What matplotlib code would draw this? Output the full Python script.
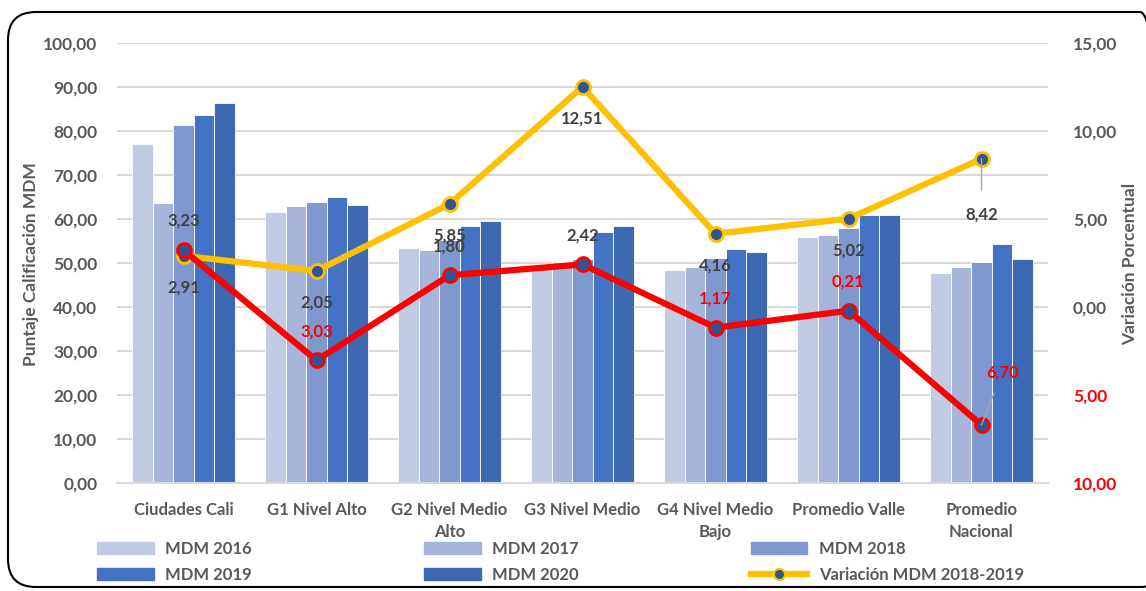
import matplotlib.pyplot as plt
import numpy as np
from matplotlib.patches import FancyBboxPatch, Patch
from matplotlib.lines import Line2D
from matplotlib.transforms import IdentityTransform

plt.rcParams['font.family'] = ['Lato', 'DejaVu Sans']
plt.rcParams['font.weight'] = 'bold'
plt.rcParams['axes.labelweight'] = 'bold'

categorias = ["Ciudades Cali", "G1 Nivel Alto", "G2 Nivel Medio\nAlto", "G3 Nivel Medio",
              "G4 Nivel Medio\nBajo", "Promedio Valle", "Promedio\nNacional"]
mdm_2016 = [77.1, 61.5, 53.3, 49.5, 48.4, 55.9, 47.7]
mdm_2017 = [63.7, 63.0, 52.9, 50.2, 49.0, 56.4, 49.0]
mdm_2018 = [81.3, 63.8, 55.2, 50.8, 51.1, 58.0, 50.2]
mdm_2019 = [83.6, 65.1, 58.4, 57.0, 53.1, 61.0, 54.3]
mdm_2020 = [86.4, 63.1, 59.5, 58.4, 52.4, 60.8, 50.8]
var_2018_2019 = [2.91, 2.05, 5.85, 12.51, 4.16, 5.02, 8.42]
var_2019_2020 = [3.23, -3.03, 1.80, 2.42, -1.17, -0.21, -6.70]

series = [mdm_2016, mdm_2017, mdm_2018, mdm_2019, mdm_2020]
nombres = ["MDM 2016", "MDM 2017", "MDM 2018", "MDM 2019", "MDM 2020"]
colores = ["#C2CBE4", "#A7B5DB", "#7F98D0", "#4472C4", "#3D68B2"]

gris = "#595959"
texto = "#404040"
amarillo = "#FFC000"
rojo = "#FF0000"
azul_marca = "#2F5597"

def coma(v):
    return f"{abs(v):.2f}".replace(".", ",")

fig = plt.figure(figsize=(11.46, 5.91), dpi=100)
W, H = 1146, 591

# marco redondeado (en pixeles), borde derecho fuera de la imagen
marco = FancyBboxPatch((8, 4), 1160, 575, boxstyle="round,pad=0,rounding_size=28",
                       transform=IdentityTransform(), fill=False, edgecolor="black", linewidth=1.5)
fig.patches.append(marco)

ax = fig.add_axes([117 / W, 1 - 483 / H, (1048 - 117) / W, 440 / H])
x = np.arange(len(categorias))
ancho = 0.154
for i, (vals, nom, col) in enumerate(zip(series, nombres, colores)):
    ax.bar(x + (i - 2) * ancho, vals, ancho, color=col, edgecolor="white", linewidth=0.6, label=nom)

ax.set_ylim(0, 100)
ax.set_xlim(-0.5, len(categorias) - 0.5)
ax.set_yticks(np.arange(0, 101, 10))
ax.set_yticklabels([coma(v) for v in np.arange(0, 101, 10)], color=gris, fontsize=12.5)
ax.set_xticks(x)
ax.set_xticklabels(categorias, color=gris, fontsize=12, linespacing=1.45)
ax.tick_params(axis="y", length=0, pad=14)
ax.tick_params(axis="x", length=0, pad=14)
ax.grid(axis="y", color="#D9D9D9", linewidth=1.5)
ax.set_axisbelow(True)
for s in ["top", "right", "left"]:
    ax.spines[s].set_visible(False)
ax.spines["bottom"].set_color("#D9D9D9")
ax.spines["bottom"].set_linewidth(1.5)

ax2 = ax.twinx()
ax2.set_ylim(-10, 15)
t2 = np.arange(-10, 16, 5)
ax2.set_yticks(t2)
ax2.set_yticklabels([coma(v) for v in t2], fontsize=12.5)
for lab, v in zip(ax2.get_yticklabels(), t2):
    lab.set_color(rojo if v < 0 else gris)
ax2.tick_params(axis="y", length=0, pad=18)
for s in ["top", "right", "left", "bottom"]:
    ax2.spines[s].set_visible(False)

fig.text(31 / W, 1 - 264 / H, "Puntaje Calificación MDM", rotation=90, ha="center", va="center",
         color=gris, fontsize=12.5, fontweight="bold")
fig.text(1130 / W, 1 - 264 / H, "Variación Porcentual", rotation=90, ha="center", va="center",
         color=gris, fontsize=12.5, fontweight="bold")

ax2.plot(x, var_2018_2019, color=amarillo, linewidth=4.5, marker="o", markersize=10,
         markerfacecolor=azul_marca, markeredgecolor=amarillo, markeredgewidth=2, zorder=3)
ax2.plot(x, var_2019_2020, color=rojo, linewidth=4.5, marker="o", markersize=10,
         markerfacecolor=azul_marca, markeredgecolor=rojo, markeredgewidth=2, zorder=4)

for i, v in enumerate(var_2018_2019):
    if i == len(var_2018_2019) - 1:
        ax2.annotate(coma(v), (x[i], v), xytext=(0, -40), textcoords="offset points",
                     ha="center", va="center", fontsize=12, color=texto, zorder=6,
                     arrowprops=dict(arrowstyle="-", color="#A6A6A6", lw=1, shrinkA=10, shrinkB=0))
    else:
        ax2.annotate(coma(v), (x[i], v), xytext=(0, -23), textcoords="offset points",
                     ha="center", va="center", fontsize=12, color=texto, zorder=6)

for i, v in enumerate(var_2019_2020):
    c = rojo if v < 0 else texto
    if i == len(var_2019_2020) - 1:
        ax2.annotate(coma(v), (x[i], v), xytext=(15, 38), textcoords="offset points",
                     ha="center", va="center", fontsize=12, color=c, zorder=6,
                     arrowprops=dict(arrowstyle="-", color="#A6A6A6", lw=1, shrinkA=8, shrinkB=0))
    else:
        ax2.annotate(coma(v), (x[i], v), xytext=(0, 21), textcoords="offset points",
                     ha="center", va="center", fontsize=12, color=c, zorder=6)

# leyenda
h = [Patch(color=c) for c in colores]
linea = Line2D([], [], color=amarillo, linewidth=4.5, marker="o", markersize=8,
               markerfacecolor=azul_marca, markeredgecolor=amarillo, markeredgewidth=1.5)
handles = [h[0], h[3], h[1], h[4], h[2], linea]
labels = [nombres[0], nombres[3], nombres[1], nombres[4], nombres[2], "Variación MDM 2018-2019"]
fig.legend(handles, labels, ncol=3, loc="lower left", mode="expand",
           bbox_to_anchor=(82 / W, 1 - 598 / H, (1039 - 82) / W, 60 / H),
           frameon=False, fontsize=12, handlelength=3.4, handleheight=0.7,
           labelspacing=0.6, handletextpad=0.7, labelcolor=gris)

fig.savefig("out.png", dpi=100)
